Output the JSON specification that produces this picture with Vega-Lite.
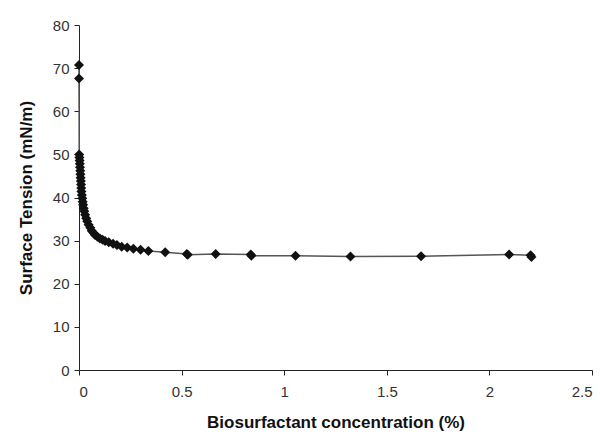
{
  "$schema": "https://vega.github.io/schema/vega-lite/v6.json",
  "width": 513,
  "height": 345,
  "autosize": "none",
  "padding": {"left": 79, "top": 25, "right": 8, "bottom": 67},
  "background": "white",
  "config": {"view": {"stroke": null}},
  "data": {"values": [
    {"c": 0.0, "st": 70.7},
    {"c": 0.0, "st": 67.6},
    {"c": 0.001, "st": 50.0},
    {"c": 0.002, "st": 49.3},
    {"c": 0.003, "st": 48.6},
    {"c": 0.004, "st": 47.8},
    {"c": 0.005, "st": 47.0},
    {"c": 0.006, "st": 46.2},
    {"c": 0.007, "st": 45.4},
    {"c": 0.008, "st": 44.6},
    {"c": 0.009, "st": 43.8},
    {"c": 0.010, "st": 43.0},
    {"c": 0.011, "st": 42.2},
    {"c": 0.012, "st": 41.4},
    {"c": 0.014, "st": 40.6},
    {"c": 0.016, "st": 39.8},
    {"c": 0.018, "st": 39.0},
    {"c": 0.020, "st": 38.3},
    {"c": 0.023, "st": 37.5},
    {"c": 0.026, "st": 36.8},
    {"c": 0.030, "st": 36.0},
    {"c": 0.035, "st": 35.2},
    {"c": 0.040, "st": 34.5},
    {"c": 0.047, "st": 33.7},
    {"c": 0.055, "st": 33.0},
    {"c": 0.062, "st": 32.3},
    {"c": 0.070, "st": 31.8},
    {"c": 0.078, "st": 31.3},
    {"c": 0.090, "st": 30.9},
    {"c": 0.102, "st": 30.5},
    {"c": 0.115, "st": 30.2},
    {"c": 0.127, "st": 29.9},
    {"c": 0.145, "st": 29.6},
    {"c": 0.166, "st": 29.3},
    {"c": 0.185, "st": 29.0},
    {"c": 0.208, "st": 28.6},
    {"c": 0.235, "st": 28.4},
    {"c": 0.265, "st": 28.1},
    {"c": 0.300, "st": 27.9},
    {"c": 0.338, "st": 27.6},
    {"c": 0.420, "st": 27.3},
    {"c": 0.525, "st": 26.9},
    {"c": 0.530, "st": 26.7},
    {"c": 0.666, "st": 26.9},
    {"c": 0.837, "st": 26.8},
    {"c": 0.840, "st": 26.5},
    {"c": 1.055, "st": 26.5},
    {"c": 1.323, "st": 26.3},
    {"c": 1.667, "st": 26.4},
    {"c": 2.096, "st": 26.8},
    {"c": 2.201, "st": 26.6},
    {"c": 2.205, "st": 26.2}
  ]},
  "encoding": {
    "x": {
      "field": "c", "type": "quantitative",
      "scale": {"domain": [0, 2.5], "nice": false, "zero": true},
      "axis": {
        "title": "Biosurfactant  concentration (%)",
        "values": [0, 0.5, 1, 1.5, 2, 2.5],
        "format": "~g",
        "grid": false,
        "domainColor": "#222", "tickColor": "#222", "tickSize": 5,
        "labelFont": "Liberation Sans", "labelFontSize": 15, "labelColor": "#333",
        "labelPadding": 9,
        "titleFont": "Liberation Sans", "titleFontSize": 17, "titleFontWeight": "bold",
        "titleColor": "#111", "titlePadding": 15
      }
    },
    "y": {
      "field": "st", "type": "quantitative",
      "scale": {"domain": [0, 80], "nice": false},
      "axis": {
        "title": "Surface Tension (mN/m)",
        "values": [0, 10, 20, 30, 40, 50, 60, 70, 80],
        "grid": false,
        "domainColor": "#222", "tickColor": "#222", "tickSize": 5,
        "labelFont": "Liberation Sans", "labelFontSize": 15, "labelColor": "#333",
        "labelPadding": 5,
        "titleFont": "Liberation Sans", "titleFontSize": 17, "titleFontWeight": "bold",
        "titleColor": "#111", "titlePadding": 17
      }
    }
  },
  "layer": [
    {"mark": {"type": "line", "color": "#555", "strokeWidth": 1.5}},
    {"mark": {"type": "point", "shape": "diamond", "filled": true, "color": "#111", "opacity": 1, "size": 100}}
  ]
}
